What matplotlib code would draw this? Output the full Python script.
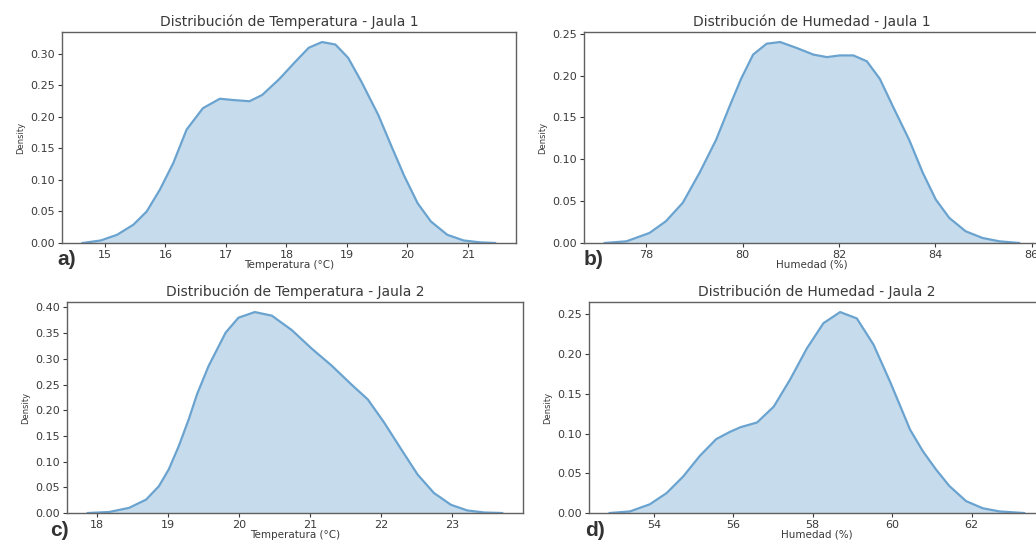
import matplotlib.pyplot as plt
from matplotlib.ticker import MultipleLocator
import numpy as np

# Density curves (x value, density)
temp1_x = [14.63, 14.93, 15.20, 15.47, 15.69, 15.91, 16.13, 16.35, 16.62, 16.90, 17.11, 17.39, 17.60,
           17.88, 18.15, 18.37, 18.59, 18.81, 19.02, 19.24, 19.52, 19.73, 19.95, 20.17, 20.39, 20.66,
           20.93, 21.20, 21.45]
temp1_d = [0.000, 0.004, 0.013, 0.029, 0.050, 0.085, 0.127, 0.180, 0.214, 0.229, 0.227, 0.225, 0.235,
           0.260, 0.288, 0.310, 0.319, 0.315, 0.294, 0.256, 0.203, 0.155, 0.106, 0.063, 0.034, 0.013,
           0.004, 0.001, 0.000]

hum1_x = [77.14, 77.59, 78.07, 78.41, 78.76, 79.11, 79.45, 79.73, 79.97, 80.22, 80.50, 80.78, 81.12,
          81.47, 81.75, 82.02, 82.30, 82.58, 82.85, 83.13, 83.46, 83.74, 84.01, 84.29, 84.63, 84.98,
          85.33, 85.74]
hum1_d = [0.000, 0.002, 0.012, 0.026, 0.048, 0.084, 0.123, 0.163, 0.196, 0.225, 0.238, 0.240, 0.233,
          0.225, 0.222, 0.224, 0.224, 0.217, 0.196, 0.162, 0.123, 0.084, 0.052, 0.030, 0.014, 0.006,
          0.002, 0.000]

temp2_x = [17.87, 18.17, 18.45, 18.69, 18.87, 19.01, 19.15, 19.29, 19.41, 19.57, 19.81, 19.99, 20.22,
           20.46, 20.74, 21.02, 21.30, 21.58, 21.81, 22.04, 22.28, 22.51, 22.74, 22.98, 23.21, 23.45,
           23.70]
temp2_d = [0.000, 0.002, 0.010, 0.026, 0.052, 0.085, 0.130, 0.182, 0.232, 0.286, 0.351, 0.380, 0.391,
           0.384, 0.356, 0.320, 0.287, 0.250, 0.221, 0.176, 0.124, 0.075, 0.039, 0.016, 0.005, 0.001,
           0.000]

hum2_x = [52.89, 53.40, 53.90, 54.32, 54.74, 55.16, 55.57, 55.91, 56.18, 56.60, 57.02, 57.43, 57.85,
          58.27, 58.69, 59.11, 59.53, 59.95, 60.20, 60.45, 60.77, 61.10, 61.44, 61.86, 62.28, 62.70,
          63.32]
hum2_d = [0.000, 0.002, 0.011, 0.025, 0.046, 0.072, 0.093, 0.102, 0.108, 0.114, 0.134, 0.168, 0.207,
          0.239, 0.253, 0.245, 0.212, 0.165, 0.135, 0.105, 0.078, 0.055, 0.034, 0.015, 0.006, 0.002,
          0.000]

titles = ['Distribución de Temperatura - Jaula 1', 'Distribución de Humedad - Jaula 1',
          'Distribución de Temperatura - Jaula 2', 'Distribución de Humedad - Jaula 2']
xlabels = ['Temperatura (°C)', 'Humedad (%)', 'Temperatura (°C)', 'Humedad (%)']
panel_labels = ['a)', 'b)', 'c)', 'd)']
xticks = [[15, 16, 17, 18, 19, 20, 21], [78, 80, 82, 84, 86],
          [18, 19, 20, 21, 22, 23], [54, 56, 58, 60, 62]]

curves = [(temp1_x, temp1_d), (hum1_x, hum1_d), (temp2_x, temp2_d), (hum2_x, hum2_d)]

# axes rectangles in figure fraction (left, bottom, width, height)
rects = [[0.0598, 0.5525, 0.438, 0.3886],
         [0.5637, 0.5525, 0.440, 0.3886],
         [0.0647, 0.0552, 0.440, 0.3886],
         [0.5685, 0.0552, 0.440, 0.3886]]
label_pos = [(0.055, 0.512), (0.563, 0.512), (0.048, 0.012), (0.565, 0.012)]

fig = plt.figure(figsize=(10.36, 5.43), dpi=100)
text_col = '#3a3a3a'

for i in range(4):
    ax = fig.add_axes(rects[i])
    x, d = curves[i]
    x = np.array(x)
    d = np.array(d)
    ax.fill_between(x, d, color='#1f77b4', alpha=0.25, linewidth=0)
    ax.plot(x, d, color='#6aa3cf', linewidth=1.6, solid_joinstyle='round')
    span = x.max() - x.min()
    ax.set_xlim(x.min() - 0.05 * span, x.max() + 0.05 * span)
    ax.set_ylim(0, d.max() * 1.05)
    ax.set_xticks(xticks[i])
    ax.yaxis.set_major_locator(MultipleLocator(0.05))
    ax.set_title(titles[i], fontsize=10, color=text_col, pad=4)
    ax.set_xlabel(xlabels[i], fontsize=7.5, color=text_col, labelpad=0)
    ax.set_ylabel('Density', fontsize=6, color=text_col, labelpad=4)
    ax.tick_params(labelsize=8, colors=text_col, length=3, pad=2)
    ax.yaxis.set_major_formatter(plt.FormatStrFormatter('%.2f'))
    for s in ax.spines.values():
        s.set_color('#606060')
        s.set_linewidth(1.0)
    fig.text(label_pos[i][0], label_pos[i][1], panel_labels[i], fontsize=15,
             fontweight='bold', color='#333333', family='Liberation Sans')

plt.savefig('out.png', dpi=100)
